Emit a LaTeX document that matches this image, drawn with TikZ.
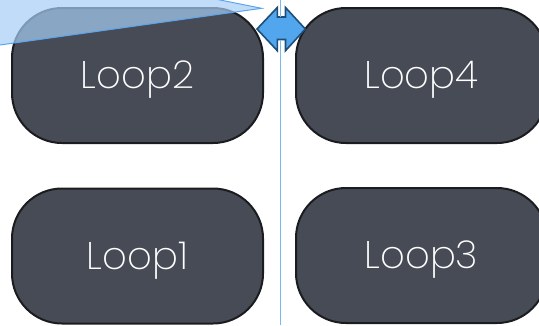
\documentclass[tikz,border=0pt]{standalone}
\usepackage{fontspec}
\newfontfamily\loopfont{Poppins ExtraLight}
\definecolor{boxfill}{HTML}{474B56}
\definecolor{boxline}{HTML}{1B1C20}
\definecolor{guide}{HTML}{7AB8F0}
\definecolor{wedgefill}{HTML}{A6CDF5}
\definecolor{wedgeline}{HTML}{5AA5F0}
\definecolor{handlefill}{HTML}{52A6EE}
\definecolor{handleline}{HTML}{1F4E79}
\tikzset{
  loopbox/.style={draw=boxline, line width=2pt, fill=boxfill, rounded corners=50pt,
    minimum width=251pt, minimum height=135pt, inner sep=0pt,
    text height=26.5pt, text depth=0pt,
    text=white, font=\loopfont\fontsize{38.5}{42}\selectfont},
}
\begin{document}
\begin{tikzpicture}[x=1pt,y=-1pt]
\useasboundingbox (0,0) rectangle (539,325);
\clip (0,0) rectangle (539,325);
\node[loopbox] (loop2) at (137.5,75.5) {Loop2};
\node[loopbox] (loop4) at (421.5,75.5) {Loop4};
\node[loopbox] (loop1) at (137.5,256) {Loop1};
\node[loopbox] (loop3) at (421.5,255.5) {Loop3};
\fill[wedgefill, fill opacity=0.7] (170,-10) -- (261.7,8.3) -- (0,45) -- (0,-10) -- cycle;
\draw[wedgeline, line width=1pt] (170,-10) -- (261.7,8.3) -- (0,45);
\coordinate (gtop) at (280,0);
\coordinate (gbot) at (280,325);
\draw[guide, line width=1pt] (gtop) -- (gbot);
\draw[handleline, fill=handlefill, line width=1.6pt, line join=miter]
  (257,29) -- (277.3,7.5) -- (277.3,17) -- (285.5,17) -- (285.5,7.5) -- (305.3,29)
  -- (285.5,50.7) -- (285.5,39.5) -- (277.3,39.5) -- (277.3,50.7) -- cycle;
\draw[guide, line width=1pt] (280,0) -- (280,17);
\draw[guide, line width=1pt] (280,39.5) -- (280,50.7);
\end{tikzpicture}
\end{document}
